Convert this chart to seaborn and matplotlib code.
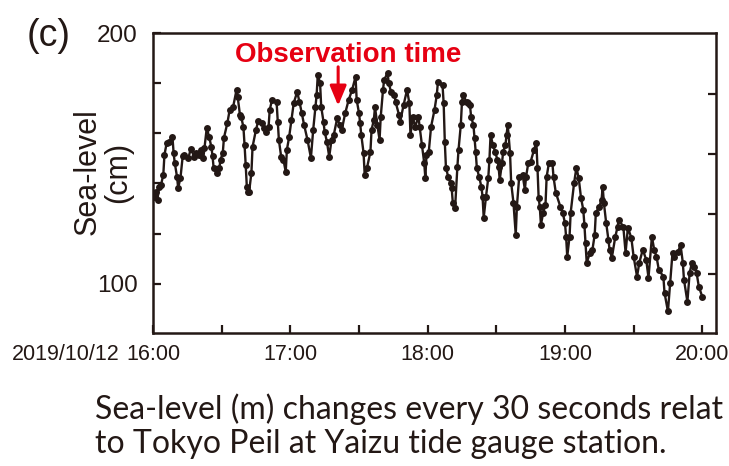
import matplotlib
matplotlib.use("Agg")
import matplotlib.pyplot as plt
import seaborn as sns
import pandas as pd

# minutes after 2019/10/12 16:00
minutes = [0.5, 1.5, 2.0, 2.5, 3.5, 4.5, 5.0, 6.0, 7.0, 8.5, 9.0, 9.5, 10.5, 11.0, 12.0, 13.0, 13.5,
           15.5, 16.5, 18.0, 19.0, 20.0, 21.0, 22.0, 22.5, 23.5, 24.5, 25.5, 26.0, 26.5, 28.0, 29.0,
           29.5, 30.5, 31.0, 32.5, 33.5, 35.0, 36.5, 37.0, 38.0, 38.5, 39.5, 40.0, 40.5, 41.0, 41.5,
           42.0, 43.0, 43.5, 45.0, 46.0, 47.5, 48.5, 49.5, 50.5, 51.0, 52.0, 54.0, 54.5, 55.0, 56.0,
           57.0, 58.0, 58.5, 59.5, 60.5, 61.5, 63.0, 64.0, 65.0, 66.0, 67.5, 69.0, 70.0, 71.0, 71.5,
           72.0, 73.0, 73.5, 74.5, 75.0, 76.0, 77.0, 78.0, 79.0, 80.5, 81.5, 82.5, 84.0, 85.5, 87.0,
           88.5, 89.0, 90.0, 90.5, 91.0, 92.0, 92.5, 93.5, 95.0, 95.5, 96.5, 97.0, 98.0, 99.0, 99.5,
           100.5, 101.0, 102.5, 103.0, 104.0, 105.5, 106.0, 107.5, 108.0, 109.5, 111.0, 112.0, 112.5,
           113.5, 114.5, 116.0, 116.5, 117.5, 118.5, 119.0, 119.5, 120.5, 121.5, 123.0, 124.0, 124.5,
           126.5, 127.0, 127.5, 128.0, 129.0, 130.0, 130.5, 131.0, 132.0, 133.0, 133.5, 134.5, 135.0,
           135.5, 137.0, 137.5, 138.5, 139.0, 140.0, 140.5, 141.0, 141.5, 142.5, 143.5, 144.0, 144.5,
           145.5, 146.5, 147.0, 147.5, 148.5, 149.5, 150.5, 151.0, 151.5, 152.5, 153.0, 154.0, 154.5,
           155.0, 156.0, 156.5, 157.5, 158.5, 159.0, 160.0, 161.5, 162.5, 163.0, 164.0, 165.0, 166.5,
           167.5, 168.0, 168.5, 169.0, 169.5, 170.5, 171.5, 172.0, 173.0, 174.5, 175.0, 176.0, 178.0,
           179.0, 180.0, 180.5, 181.0, 182.0, 182.5, 184.0, 185.0, 186.0, 187.0, 188.0, 188.5, 189.0,
           189.5, 191.0, 192.0, 193.0, 193.5, 195.0, 196.0, 196.5, 197.0, 198.0, 199.0, 199.5, 200.5,
           202.0, 203.0, 203.5, 205.5, 206.5, 207.5, 209.0, 210.0, 211.5, 212.5, 214.0, 215.5, 216.5,
           218.0, 219.0, 220.0, 221.0, 223.0, 223.5, 225.0, 226.0, 227.0, 227.5, 229.5, 230.5, 231.5,
           232.0, 233.5, 234.5, 235.5, 236.5, 237.5, 238.5, 240.0]

sea_level_cm = [134.7, 136.7, 133.5, 138.6, 139.4, 143.4, 151.4, 156.2, 156.6, 158.6, 152.2, 148.2, 142.6,
                138.2, 142.2, 151.0, 151.4, 150.2, 153.8, 150.6, 152.2, 151.5, 153.4, 150.2, 154.2, 162.2,
                158.6, 154.6, 151.0, 146.2, 144.2, 146.2, 149.4, 152.2, 158.2, 164.1, 169.3, 170.5, 177.3,
                174.5, 167.3, 166.5, 162.6, 155.4, 147.4, 138.6, 136.7, 136.7, 144.2, 154.6, 161.4, 164.9,
                164.1, 162.2, 160.6, 162.6, 169.3, 173.3, 172.5, 164.6, 157.4, 150.6, 149.4, 144.6, 153.4,
                158.6, 165.3, 172.1, 176.5, 172.5, 168.1, 163.4, 157.4, 150.2, 161.4, 170.5, 175.3, 183.3,
                180.1, 170.5, 164.6, 160.6, 156.6, 150.6, 157.4, 159.4, 166.1, 163.4, 161.4, 168.1, 173.3,
                177.3, 182.5, 173.3, 168.1, 164.1, 159.4, 152.2, 143.4, 146.2, 152.6, 161.4, 165.3, 170.5,
                163.4, 157.4, 166.5, 177.3, 181.3, 184.1, 180.1, 176.5, 175.3, 172.5, 167.3, 164.6, 171.3,
                177.3, 172.1, 159.4, 166.5, 162.6, 166.5, 162.6, 155.4, 148.2, 142.2, 151.4, 152.6, 162.6,
                169.3, 175.3, 180.5, 179.3, 172.1, 156.6, 146.2, 142.6, 140.2, 138.2, 132.3, 130.3, 146.6,
                153.4, 163.4, 172.5, 175.3, 172.5, 172.1, 171.3, 166.5, 163.4, 158.2, 152.6, 146.2, 142.6,
                138.6, 134.7, 126.3, 134.7, 142.2, 149.4, 159.4, 155.4, 152.6, 149.4, 146.6, 141.4, 148.2,
                152.6, 155.4, 159.4, 163.4, 152.2, 140.2, 132.3, 119.5, 130.7, 142.6, 143.4, 137.5, 142.6,
                148.2, 148.6, 153.4, 156.2, 146.2, 134.3, 130.7, 123.5, 128.3, 131.5, 142.6, 148.2, 148.2,
                142.6, 136.3, 130.7, 128.3, 124.3, 118.7, 110.8, 118.7, 128.3, 140.2, 146.2, 142.2, 134.3,
                129.5, 123.5, 116.3, 108.4, 112.4, 113.5, 119.5, 128.3, 130.7, 133.5, 138.6, 132.3, 124.3,
                117.5, 113.5, 110.4, 118.7, 122.7, 125.5, 122.7, 112.4, 122.3, 118.3, 110.8, 102.8, 108.4,
                113.5, 109.6, 102.4, 118.7, 113.5, 110.8, 105.6, 102.8, 96.4, 88.9, 100.4, 112.4, 110.8,
                112.8, 115.5, 108.4, 101.6, 92.8, 104.4, 108.4, 106.8, 104.4, 98.8, 94.8]

x_major = [0, 60, 120, 180, 240]
x_labels = ["16:00", "17:00", "18:00", "19:00", "20:00"]
x_minor = [30, 90, 150, 210]
y_ticks = [100, 120, 140, 160, 180, 200]
y_labels = ["100", "", "", "", "", "200"]
right_ticks = [104.0, 127.9, 151.7, 175.5]
date_text = "2019/10/12"

INK = "#231815"
RED = "#E60012"

sns.set_style("ticks")
plt.rcParams["font.family"] = ["Liberation Sans", "DejaVu Sans"]

df = pd.DataFrame({"minute": minutes, "level": sea_level_cm})

fig = plt.figure(figsize=(7.29, 4.66), dpi=100)
ax = fig.add_axes([153 / 729, 1 - 333 / 466, (716 - 153) / 729, (333 - 33) / 466])

sns.lineplot(data=df, x="minute", y="level", ax=ax, sort=False, color=INK,
             linewidth=1.7, marker="o", markersize=5.0, markeredgewidth=0,
             markerfacecolor=INK, estimator=None)

ax.set_xlim(0, 246)
ax.set_ylim(80.3, 200)
ax.set_xlabel("")
ax.set_ylabel("")

ax.set_xticks(x_major)
ax.set_xticklabels(x_labels)
ax.set_xticks(x_minor, minor=True)
ax.set_yticks(y_ticks)
ax.set_yticklabels(y_labels)

for s in ax.spines.values():
    s.set_linewidth(1.8)
    s.set_color(INK)
    s.set_visible(True)

ax.tick_params(axis="x", which="both", direction="in", length=6, width=1.6,
               colors=INK, labelsize=15.5, pad=8, labelcolor=INK)
ax.tick_params(axis="y", which="both", direction="in", length=6, width=1.6,
               colors=INK, labelsize=17.5, pad=11, labelcolor=INK)

ax2 = ax.twinx()
ax2.set_ylim(ax.get_ylim())
ax2.set_yticks(right_ticks)
ax2.set_yticklabels([])
ax2.tick_params(axis="y", direction="in", length=6, width=1.6, colors=INK)
for s in ax2.spines.values():
    s.set_visible(False)

ax.annotate(date_text, xy=(0, 0), xycoords=("data", "axes fraction"),
            xytext=(-24, -8), textcoords="offset points", ha="right", va="top",
            fontsize=15.5, color=INK)

# Observation time annotation
fig.text(348 / 729, 1 - 62 / 466, "Observation time", ha="center", va="baseline",
         fontsize=20, fontweight="bold", color=RED)
ax.annotate("", xy=(80.9, 171.0), xytext=(80.9, 186.5),
            arrowprops=dict(arrowstyle="-|>,head_length=0.6,head_width=0.25",
                            color=RED, lw=2.2, shrinkA=0, shrinkB=0, mutation_scale=20))

fig.text(103 / 729, 1 - 172 / 466, "Sea-level\n(cm)", rotation=90, ha="center",
         va="center", fontsize=22, color=INK, linespacing=1.05, multialignment="center")

fig.text(49 / 729, 1 - 36 / 466, "(c)", ha="center", va="center", fontsize=27, color=INK)

caption = ["Sea-level (m) changes every 30 seconds relat",
           "to Tokyo Peil at Yaizu tide gauge station."]
fig.text(95 / 729, 1 - 419 / 466, caption[0], ha="left", va="baseline",
         fontsize=23, color=INK, family=["Lato", "DejaVu Sans"])
fig.text(95 / 729, 1 - 453 / 466, caption[1], ha="left", va="baseline",
         fontsize=23, color=INK, family=["Lato", "DejaVu Sans"])

fig.savefig("out.png", dpi=100)
